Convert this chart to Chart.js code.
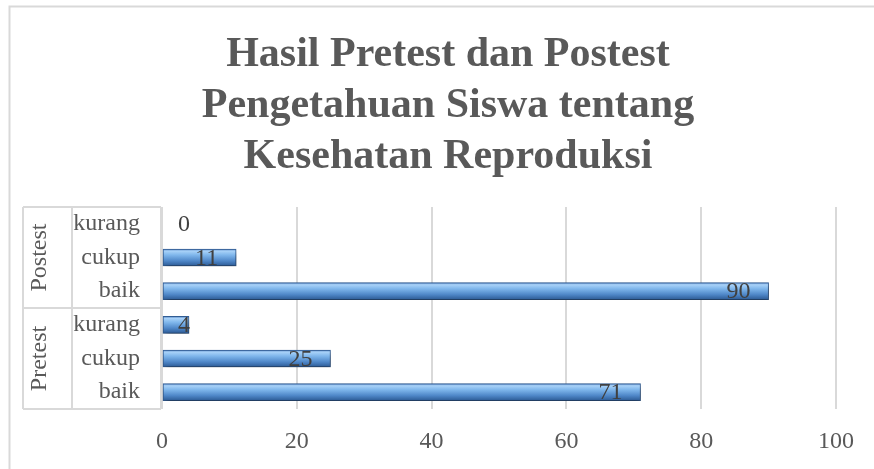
<!DOCTYPE html>
<html>
<head>
<meta charset="utf-8">
<script src="https://cdn.jsdelivr.net/npm/chart.js@4/dist/chart.umd.min.js"></script>
<style>
html,body{margin:0;padding:0;background:#fff;}
#wrap{width:874px;height:469px;position:relative;}
</style>
</head>
<body>
<div id="wrap"><canvas id="c" width="874" height="469"></canvas></div>
<script>
const titleLines = ["Hasil Pretest dan Postest", "Pengetahuan Siswa tentang", "Kesehatan Reproduksi"];
const categories = ["kurang", "cukup", "baik", "kurang", "cukup", "baik"];
const groups = ["Postest", "Pretest"];
const groupSizes = [3, 3];
const values = [0, 11, 90, 4, 25, 71];
const xTicks = [0, 20, 40, 60, 80, 100];

const SERIF = "'Liberation Serif', 'Times New Roman', serif";
const TEXT = '#595959';
const LINE = '#d9d9d9';

function barGradient(ctx) {
  const chart = ctx.chart;
  const ys = chart.scales.y;
  if (!ys || ctx.dataIndex === undefined) return '#5b8fd0';
  const y = ys.getPixelForValue(ctx.dataIndex);
  if (!isFinite(y)) return '#5b8fd0';
  const h = 17;
  const g = chart.ctx.createLinearGradient(0, y - h/2, 0, y + h/2);
  g.addColorStop(0, '#4f7fbf');
  g.addColorStop(0.12, '#a9d2f8');
  g.addColorStop(0.35, '#80b7ec');
  g.addColorStop(0.7, '#4f87c8');
  g.addColorStop(1, '#2c5a94');
  return g;
}

const framePlugin = {
  id: 'frame',
  beforeDraw(chart) {
    const c = chart.ctx;
    c.save();
    c.fillStyle = '#fff';
    c.fillRect(0, 0, chart.width, chart.height);
    c.strokeStyle = '#d9d9d9';
    c.lineWidth = 2;
    c.beginPath();
    c.moveTo(9.5, chart.height + 2);
    c.lineTo(9.5, 6.5);
    c.lineTo(chart.width + 2, 6.5);
    c.stroke();
    // title
    c.fillStyle = TEXT;
    c.font = "bold 42px " + SERIF;
    c.textAlign = 'center';
    c.textBaseline = 'middle';
    titleLines.forEach((t, i) => c.fillText(t, 448, 55.5 + i * 51));
    c.restore();
  },
  afterDraw(chart) {
    const c = chart.ctx;
    const ys = chart.scales.y;
    const area = chart.chartArea;
    const left = 23, mid = 72, right = area.left - 1;
    const step = (area.bottom - area.top) / categories.length;
    c.save();
    c.strokeStyle = LINE;
    c.lineWidth = 2;
    let acc = 0;
    const hs = [area.top];
    groupSizes.forEach(n => { acc += n; hs.push(area.top + acc * step); });
    c.beginPath();
    hs.forEach(y => { c.moveTo(left, y); c.lineTo(right, y); });
    c.moveTo(left, area.top); c.lineTo(left, area.bottom);
    c.moveTo(mid, area.top); c.lineTo(mid, area.bottom);
    c.moveTo(right, area.top); c.lineTo(right, area.bottom);
    c.stroke();
    c.fillStyle = TEXT;
    c.font = "24px " + SERIF;
    c.textAlign = 'center';
    c.textBaseline = 'middle';
    acc = 0;
    groups.forEach((g, i) => {
      const y0 = area.top + acc * step;
      acc += groupSizes[i];
      const y1 = area.top + acc * step;
      c.save();
      c.translate(40, (y0 + y1) / 2);
      c.rotate(-Math.PI / 2);
      c.fillText(g, 0, 0);
      c.restore();
    });
    const xs = chart.scales.x;
    c.fillStyle = '#404040';
    c.font = "24px " + SERIF;
    c.textAlign = 'right';
    values.forEach((v, i) => {
      const end = xs.getPixelForValue(v);
      const x = Math.max(end - 18, xs.getPixelForValue(0) + 28);
      c.fillText(String(v), x, ys.getPixelForValue(i) + 1);
    });
    c.restore();
  }
};

const shadowPlugin = {
  id: 'shadow',
  beforeDatasetDraw(chart) {
    const c = chart.ctx;
    c.save();
    c.shadowColor = 'rgba(0,0,0,0.4)';
    c.shadowBlur = 6;
    c.shadowOffsetX = 2;
    c.shadowOffsetY = 4;
  },
  afterDatasetDraw(chart) { chart.ctx.restore(); }
};

new Chart(document.getElementById('c'), {
  type: 'bar',
  data: {
    labels: categories,
    datasets: [{
      data: values,
      backgroundColor: barGradient,
      borderColor: '#335f97',
      borderWidth: 1,
      borderSkipped: false,
      barThickness: 17
    }]
  },
  options: {
    indexAxis: 'y',
    responsive: false,
    animation: false,
    events: [],
    layout: { padding: { left: 10, right: 38, top: 207, bottom: 8 } },
    plugins: {
      legend: { display: false },
      tooltip: { enabled: false },
      title: { display: false }
    },
    scales: {
      x: {
        min: 0, max: 100,
        afterBuildTicks(scale) { scale.ticks = xTicks.map(v => ({ value: v })); },
        afterFit(scale) { scale.height = 52; },
        grid: { color: LINE, lineWidth: 2, drawTicks: false },
        border: { display: false },
        ticks: { color: TEXT, font: { family: SERIF, size: 24 }, padding: 18 }
      },
      y: {
        afterFit(scale) { scale.width = 152; },
        grid: { display: false, drawTicks: false },
        border: { display: false },
        ticks: { color: TEXT, font: { family: SERIF, size: 24 }, padding: 22, autoSkip: false }
      }
    }
  },
  plugins: [framePlugin, shadowPlugin]
});
</script>
</body>
</html>
